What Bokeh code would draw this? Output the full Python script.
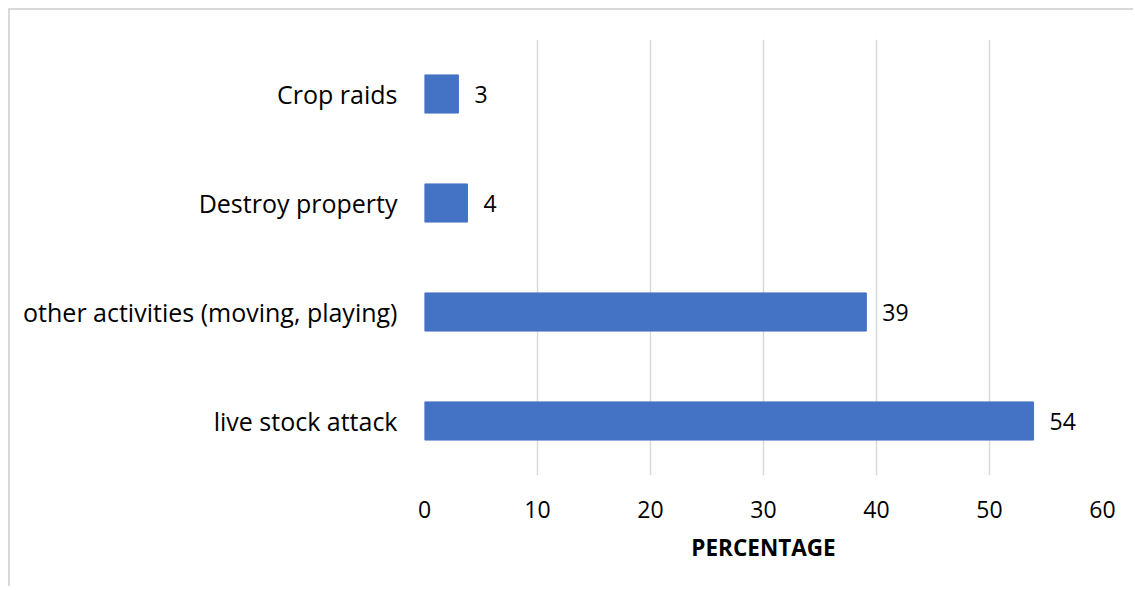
from bokeh.plotting import figure
from bokeh.models import ColumnDataSource, FixedTicker, LabelSet
from bokeh.core.properties import value
from bokeh.embed import file_html
from bokeh.resources import INLINE

categories = ["live stock attack", "other activities (moving, playing)", "Destroy property", "Crop raids"]
percentages = [53.9, 39.1, 3.8, 3.0]
labels = [str(int(round(v))) for v in percentages]
x_ticks = [0, 10, 20, 30, 40, 50, 60]

FONT = "Open Sans"
FS = "23px"
src = ColumnDataSource(dict(cat=categories, val=percentages, lab=labels))

p = figure(width=1125, height=578, y_range=categories, x_range=(0, 60),
           output_backend="svg", toolbar_location=None,
           min_border_left=414, min_border_right=33, min_border_top=29, min_border_bottom=113)
p.styles = {"border-top": "2px solid #d9d9d9", "border-left": "2px solid #d9d9d9",
            "margin-left": "8px", "margin-top": "8px"}
p.outline_line_color = None

p.hbar(y="cat", right="val", left=0, height=0.35, source=src,
       fill_color="#4472C4", line_color="#4472C4", line_width=1)

p.add_layout(LabelSet(x="val", y="cat", text="lab", source=src, x_offset=16,
                      text_baseline="middle", text_align="left", text_font_size=FS,
                      text_font=value(FONT), text_color="#000000"))

p.xaxis.ticker = FixedTicker(ticks=x_ticks)
p.xaxis.axis_line_color = None
p.xaxis.major_tick_line_color = None
p.xaxis.minor_tick_line_color = None
p.xaxis.major_label_text_font = FONT
p.xaxis.major_label_text_font_size = FS
p.xaxis.major_label_text_color = "#000000"
p.xaxis.major_label_standoff = 19
p.xaxis.axis_label = "PERCENTAGE"
p.xaxis.axis_label_text_font = FONT
p.xaxis.axis_label_text_font_size = "22.5px"
p.xaxis.axis_label_text_font_style = "bold"
p.xaxis.axis_label_text_color = "#000000"
p.xaxis.axis_label_standoff = 11

p.yaxis.axis_line_color = None
p.yaxis.major_tick_line_color = None
p.yaxis.minor_tick_line_color = None
p.yaxis.major_label_text_font = FONT
p.yaxis.major_label_text_font_size = "25px"
p.yaxis.major_label_text_color = "#000000"
p.yaxis.major_label_standoff = 21

p.xgrid.grid_line_color = "#d9d9d9"
p.xgrid.grid_line_width = 1.5
p.ygrid.grid_line_color = None

open("out.html", "w").write(file_html(p, INLINE))
